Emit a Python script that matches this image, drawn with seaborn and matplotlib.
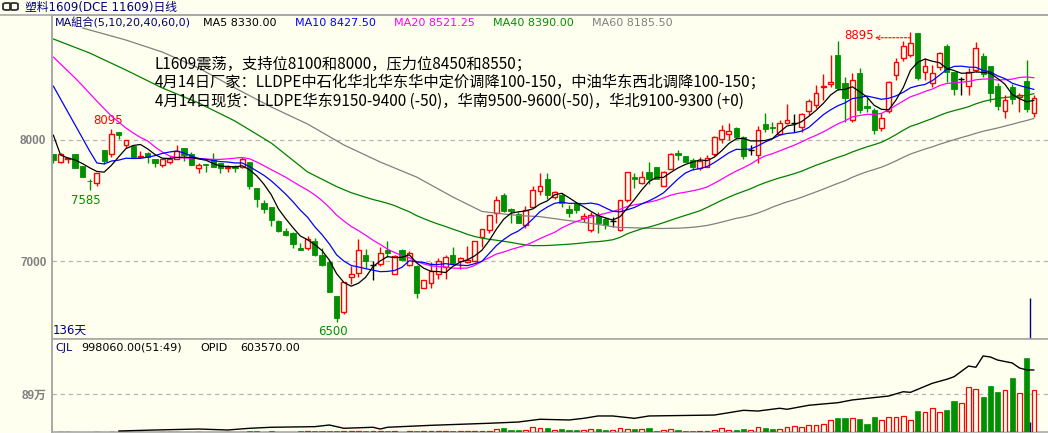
import numpy as np
import pandas as pd
import matplotlib
matplotlib.use("Agg")
import matplotlib.pyplot as plt
import seaborn as sns
from matplotlib.lines import Line2D
from matplotlib.patches import FancyBboxPatch

sns.set_theme(style="white")
plt.rcParams['font.family'] = ['DejaVu Sans', 'Noto Sans CJK SC']

# ---------------- data ----------------
opens = [7884, 7821, 7845, 7884, 7785, 7664, 7647, 7917, 7881, 8066,
         7956, 7953, 7862, 7890, 7846, 7791, 7818, 7840, 7934, 7884,
         7771, 7799, 7840, 7813, 7766, 7785, 7779, 7818, 7603, 7482,
         7443, 7333, 7251, 7229, 7105, 7105, 7165, 7049, 6994, 6712,
         6576, 6870, 6903, 7050, 6965, 6975, 7091, 6890, 7091, 6970,
         6958, 6774, 6815, 6890, 6950, 7047, 7000, 6988, 6996, 7201,
         7258, 7394, 7548, 7430, 7385, 7297, 7443, 7578, 7677, 7531,
         7545, 7427, 7482, 7352, 7256, 7372, 7344, 7333, 7256, 7504,
         7691, 7642, 7738, 7779, 7620, 7757, 7895, 7868, 7834, 7766,
         7779, 7881, 8005, 8049, 8096, 8022, 7917, 7876, 8132, 8107,
         8049, 8140, 8138, 8110, 8240, 8289, 8440, 8462, 8702, 8468,
         8165, 8551, 8284, 8248, 8102, 8240, 8537, 8675, 8702, 8881,
         8565, 8470, 8606, 8777, 8565, 8500, 8446, 8575, 8697, 8614,
         8446, 8240, 8441, 8353, 8488, 8220]
highs = [7884, 7890, 7862, 7884, 7785, 7675, 7730, 7920, 8095, 8066,
         7997, 7960, 7909, 7903, 7846, 7846, 7868, 7959, 7934, 7903,
         7807, 7799, 7890, 7813, 7793, 7793, 7862, 7818, 7603, 7504,
         7443, 7340, 7270, 7240, 7146, 7210, 7187, 7104, 7008, 6712,
         6830, 6959, 7179, 7096, 7000, 7113, 7162, 7047, 7096, 7085,
         6965, 6843, 6990, 7022, 7050, 7113, 7036, 7120, 7165, 7263,
         7380, 7537, 7565, 7435, 7408, 7454, 7620, 7724, 7724, 7580,
         7560, 7463, 7490, 7394, 7408, 7408, 7366, 7366, 7504, 7738,
         7730, 7746, 7820, 7779, 7746, 7895, 7917, 7868, 7848, 7862,
         7876, 8033, 8124, 8143, 8110, 8033, 7958, 8116, 8220, 8151,
         8165, 8297, 8212, 8220, 8339, 8454, 8543, 8702, 8818, 8523,
         8551, 8592, 8344, 8262, 8220, 8490, 8680, 8818, 8895, 8881,
         8675, 8620, 8730, 8790, 8565, 8523, 8592, 8813, 8716, 8614,
         8468, 8372, 8460, 8385, 8661, 8372]
lows = [7807, 7813, 7813, 7766, 7691, 7585, 7620, 7802, 7862, 8005,
        7931, 7850, 7856, 7813, 7780, 7780, 7802, 7840, 7829, 7793,
        7730, 7738, 7779, 7724, 7738, 7738, 7766, 7592, 7445, 7400,
        7289, 7240, 7210, 7110, 7091, 7091, 7040, 6958, 6746, 6500,
        6560, 6810, 6865, 6939, 6840, 6959, 7036, 6890, 7008, 6959,
        6697, 6774, 6774, 6848, 6848, 6986, 6931, 6980, 6990, 7115,
        7234, 7311, 7408, 7311, 7317, 7270, 7443, 7545, 7510, 7509,
        7450, 7361, 7400, 7325, 7242, 7228, 7262, 7284, 7250, 7490,
        7600, 7636, 7636, 7675, 7620, 7757, 7834, 7818, 7752, 7752,
        7779, 7868, 7972, 8000, 8011, 7840, 7876, 7812, 8069, 8055,
        8049, 8130, 8069, 8069, 8207, 8262, 8330, 8441, 8413, 8151,
        8151, 8220, 8228, 8047, 8074, 8220, 8496, 8653, 8689, 8496,
        8496, 8440, 8580, 8482, 8372, 8372, 8372, 8565, 8523, 8317,
        8250, 8185, 8300, 8234, 8229, 8193]
closes = [7835, 7884, 7852, 7766, 7691, 7660, 7730, 7826, 8047, 8044,
          7997, 7859, 7868, 7862, 7813, 7846, 7846, 7912, 7876, 7793,
          7793, 7790, 7779, 7766, 7779, 7771, 7840, 7620, 7510, 7430,
          7339, 7251, 7215, 7138, 7091, 7183, 7048, 6967, 6747, 6531,
          6823, 6890, 7088, 6997, 6965, 7063, 7069, 7045, 7010, 7070,
          6733, 6843, 6917, 7000, 7030, 6986, 7022, 7008, 7165, 7263,
          7380, 7502, 7416, 7415, 7317, 7418, 7584, 7620, 7545, 7567,
          7482, 7399, 7421, 7372, 7380, 7311, 7297, 7333, 7504, 7733,
          7675, 7691, 7675, 7675, 7738, 7881, 7876, 7818, 7774, 7829,
          7848, 8022, 8082, 8074, 8022, 7868, 7917, 8082, 8091, 8100,
          8143, 8163, 8138, 8212, 8322, 8391, 8450, 8482, 8427, 8344,
          8496, 8248, 8262, 8083, 8179, 8477, 8647, 8779, 8799, 8510,
          8611, 8556, 8716, 8565, 8421, 8500, 8565, 8763, 8543, 8386,
          8284, 8330, 8339, 8369, 8257, 8344]
volumes = [3000, 2000, 3000, 4000, 3000, 5000, 4000, 3000, 6000, 4000,
           3000, 4000, 3000, 5000, 4000, 3000, 4000, 6000, 5000, 4000,
           5000, 4000, 6000, 5000, 7000, 6000, 8000,
           24000, 22000, 9000, 24000, 8000, 9000, 10000, 24000, 22000, 24000,
           20000, 22000, 24000, 26000, 22000, 12000, 24000, 22000, 24000, 20000,
           12000, 10000, 24000, 22000, 24000, 20000, 24000, 22000, 24000, 26000,
           24000, 22000, 24000, 30000, 71000, 94000, 47000, 40000,
           47000, 110000, 87000, 87000, 47000, 71000, 47000, 47000, 55000, 71000,
           71000, 47000, 47000, 94000, 71000, 71000, 71000, 94000, 24000, 47000,
           71000, 47000, 24000, 24000, 24000, 24000, 47000, 94000, 47000, 47000,
           71000, 47000, 110000, 94000, 71000, 71000, 110000, 134000, 110000, 157000,
           157000, 189000, 283000, 330000, 330000, 330000, 307000, 189000, 354000, 283000,
           354000, 354000, 378000, 283000, 496000, 472000, 567000, 472000, 519000, 732000,
           685000, 1062000, 1015000, 826000, 1086000, 944000, 991000, 1283000, 921000, 1747000,
           998060]
opid_idx = [9, 14, 20, 24, 27, 30, 36, 38, 40, 44, 45, 46, 52, 60, 64, 67, 71, 73, 75, 77,
            80, 82, 91, 95, 97, 100, 101, 104, 106, 108, 110, 115, 117, 118, 121, 123, 124,
            126, 127, 128, 129, 130, 132, 133, 134, 135]
opid_vals = [9700, 19500, 29000, 19500, 36000, 46000, 52000, 68000, 36000, 46000, 29000,
             46000, 65000, 85000, 97000, 124000, 117000, 133000, 156000, 156000, 133000,
             156000, 165000, 211000, 204000, 231000, 221000, 260000, 273000, 285000, 312000,
             350000, 392000, 386000, 474000, 513000, 538000, 642000, 630000, 740000, 730000,
             700000, 672000, 623000, 604000, 603570]
# moving-average values before enough history is on screen
ma5_head = [8041, 7876, 7851, 7835]
ma10_head = [8446, 8339, 8231, 8124, 8017, 7909, 7810, 7802, 7826]
ma20_head = [8686, 8628, 8570, 8512, 8450, 8385, 8321, 8259, 8198, 8149,
             8099, 8058, 8021, 7992, 7942, 7901, 7868, 7855, 7851]
ma40_head_idx = [0, 5, 10, 15, 20, 25, 30, 35]
ma40_head = [8835, 8719, 8578, 8430, 8306, 8157, 7975, 7736]
ma60_head_idx = [4, 10, 15, 20, 25, 30, 35, 40, 45, 50, 55]
ma60_head = [8926, 8826, 8727, 8595, 8430, 8273, 8132, 7959, 7818, 7694, 7529]
ytick_vals = [7000, 8000]
ytick_labels = ["7000", "8000"]
vol_tick_vals = [890000]
vol_tick_labels = ["89万"]
legend_texts = ["MA組合(5,10,20,40,60,0)", "MA5 8330.00", "MA10 8427.50",
                "MA20 8521.25", "MA40 8390.00", "MA60 8185.50"]
note_lines = ["L1609震荡，支持位8100和8000，压力位8450和8550；",
              "4月14日厂家：LLDPE中石化华北华东华中定价调降100-150，中油华东西北调降100-150；",
              "4月14日现货：LLDPE华东9150-9400 (-50)，华南9500-9600(-50)，华北9100-9300 (+0)"]

# ---------------- styling ----------------
BG = "#FFFFF0"
RED = "#FF0000"
GREEN = "#009000"
NAVY = "#000080"
GRID = "#B4B4B4"
SPINE = "#A8A8A8"
W, H = 1048, 433

o = np.array(opens, float); h = np.array(highs, float)
l = np.array(lows, float); c = np.array(closes, float)
v = np.array(volumes, float)
n = len(c)
idx = np.arange(n)
cs = pd.Series(c)

def with_head(period, head):
    r = cs.rolling(period).mean().to_numpy()
    r[:len(head)] = head
    return r

ma5 = with_head(5, ma5_head)
ma10 = with_head(10, ma10_head)
ma20 = with_head(20, ma20_head)
r40 = cs.rolling(40).mean().to_numpy()
r60 = cs.rolling(60).mean().to_numpy()
ma40_x = ma40_head_idx + list(range(39, n))
ma40_y = ma40_head + list(r40[39:])
ma60_x = ma60_head_idx + list(range(59, n))
ma60_y = ma60_head + list(r60[59:])

fig = plt.figure(figsize=(W / 100, H / 100), dpi=100, facecolor=BG)

def fx(px):
    return px / W

def fy(py):
    return 1 - py / H

ax = fig.add_axes([fx(52), fy(339), fx(1048) - fx(52), fy(15) - fy(339)], facecolor=BG)
axv = fig.add_axes([fx(52), fy(432), fx(1048) - fx(52), fy(339) - fy(432)], facecolor=BG)

xl = (-0.18, 136.93)
for a in (ax, axv):
    a.set_xlim(*xl)
    for s in ("right",):
        a.spines[s].set_visible(False)
    for s in ("left", "top", "bottom"):
        a.spines[s].set_color(SPINE)
        a.spines[s].set_linewidth(1.2)
    a.set_xticks([])
    a.tick_params(axis="y", length=0, pad=4)
ax.set_ylim(6355.4, 9033)
axv.set_ylim(0, 2195000)

# dashed gridlines
for yv in ytick_vals:
    ax.axhline(yv, color=GRID, lw=0.9, ls=(0, (3.5, 3)), zorder=1)
for yv in vol_tick_vals:
    axv.axhline(yv, color=GRID, lw=0.9, ls=(0, (3.5, 3)), zorder=1)

ax.set_yticks(ytick_vals)
ax.set_yticklabels(ytick_labels)
axv.set_yticks(vol_tick_vals)
axv.set_yticklabels(vol_tick_labels)
for a in (ax, axv):
    for t in a.get_yticklabels():
        t.set_color("#808080")
        t.set_fontweight("bold")
        t.set_fontsize(8.5)
        t.set_family(["Liberation Sans", "Noto Sans CJK SC"])

up = c > o
dn = c < o
dj = c == o
wick_colors = np.where(up, RED, np.where(dn, GREEN, "black"))
ax.vlines(idx, l, h, colors=wick_colors, lw=1.0, zorder=2)
ax.bar(idx[up], (c - o)[up], bottom=o[up], width=0.66, facecolor=BG,
       edgecolor=RED, linewidth=1.0, zorder=3)
ax.bar(idx[dn], (o - c)[dn], bottom=c[dn], width=0.72, color=GREEN,
       edgecolor=GREEN, linewidth=0.6, zorder=3)
ax.hlines(c[dj], idx[dj] - 0.4, idx[dj] + 0.4, colors="black", lw=1.0, zorder=3)

# moving averages
sns.lineplot(x=ma60_x, y=ma60_y, ax=ax, color="#808080", lw=0.9, estimator=None, zorder=4)
sns.lineplot(x=ma40_x, y=ma40_y, ax=ax, color="#008000", lw=0.9, estimator=None, zorder=4)
sns.lineplot(x=idx, y=ma20, ax=ax, color="#FF00FF", lw=0.9, estimator=None, zorder=4)
sns.lineplot(x=idx, y=ma10, ax=ax, color="#0000FF", lw=0.9, estimator=None, zorder=4)
sns.lineplot(x=idx, y=ma5, ax=ax, color="black", lw=0.9, estimator=None, zorder=4)
ax.set_xlim(*xl)
ax.set_xlabel(""); ax.set_ylabel("")

# high / low labels
hi_i = int(np.argmax(h)); lo_i = int(np.argmin(l))
ax.text(7.6, 8160, "8095", color=RED, fontsize=8.5, ha="center", va="center")
ax.text(4.5, 7504, "7585", color=GREEN, fontsize=8.5, ha="center", va="center")
ax.text(lo_i - 0.5, 6416, "6500", color=GREEN, fontsize=8.5, ha="center", va="center")
ax.text(hi_i - 5.1, h[hi_i] - 30, "8895", color=RED, fontsize=8.5, ha="right", va="center")
ax.annotate("", xy=(hi_i - 4.9, h[hi_i] - 50), xytext=(hi_i, h[hi_i] - 50),
            arrowprops=dict(arrowstyle="->", color=RED, lw=0.8, ls=(0, (2, 1.5)),
                            shrinkA=0, shrinkB=0, mutation_scale=7))

# cursor line
ax.vlines(134.5, 6355.4, 6694, colors=NAVY, lw=1.0, zorder=5)
axv.vlines(134.5, 0, 243000, colors=NAVY, lw=1.0, zorder=5)

# volume + open interest
axv.bar(idx[up | dj], v[up | dj], width=0.66, facecolor=BG, edgecolor=RED, linewidth=0.9, zorder=3)
axv.bar(idx[dn], v[dn], width=0.72, color=GREEN, edgecolor=GREEN, linewidth=0.5, zorder=3)
ax2 = axv.twinx()
ax2.set_ylim(0, 905000)
sns.lineplot(x=opid_idx, y=opid_vals, ax=ax2, color="black", lw=1.0, estimator=None, zorder=4)
ax2.set_xlim(*xl)
ax2.set_yticks([]); ax2.set_ylabel(""); ax2.set_xlabel("")
for s in ax2.spines.values():
    s.set_visible(False)
axv.set_xlabel(""); axv.set_ylabel("")

# top separator line and title bar
fig.add_artist(Line2D([0, 1], [fy(15), fy(15)], color=SPINE, lw=1.2))
fig.add_artist(Line2D([fx(51.5), fx(51.5)], [fy(15), 0], color=SPINE, lw=1.2))
for x0 in (3, 10):
    fig.add_artist(FancyBboxPatch((fx(x0), fy(10)), fx(8) - fx(0), fy(3) - fy(10),
                                  boxstyle="round,pad=0,rounding_size=0.003",
                                  fill=False, ec="#303030", lw=1.3,
                                  transform=fig.transFigure))
fig.text(fx(25), fy(7), "塑料1609(DCE 11609)日线", color=NAVY, fontsize=8.5, va="center")

leg_x = [55, 203, 295, 394, 493, 592]
leg_c = [NAVY, "black", "#0000FF", "#FF00FF", "#009000", "#808080"]
for t, xx, cc in zip(legend_texts, leg_x, leg_c):
    fig.text(fx(xx), fy(23), t, color=cc, fontsize=8, va="center")

for k, line in enumerate(note_lines):
    fig.text(fx(155), fy(64 + 18.5 * k), line, color="black", fontsize=11, va="center",
             family=["Noto Sans CJK SC", "DejaVu Sans"])

fig.text(fx(53), fy(330), "136天", color=NAVY, fontsize=8.5, va="center")
fig.text(fx(55), fy(348), "CJL", color=NAVY, fontsize=8, va="center")
fig.text(fx(81), fy(348), "998060.00(51:49)", color="black", fontsize=8, va="center")
fig.text(fx(200), fy(348), "OPID", color="black", fontsize=8, va="center")
fig.text(fx(240), fy(348), "603570.00", color="black", fontsize=8, va="center")

fig.savefig("out.png", dpi=100, facecolor=BG)
